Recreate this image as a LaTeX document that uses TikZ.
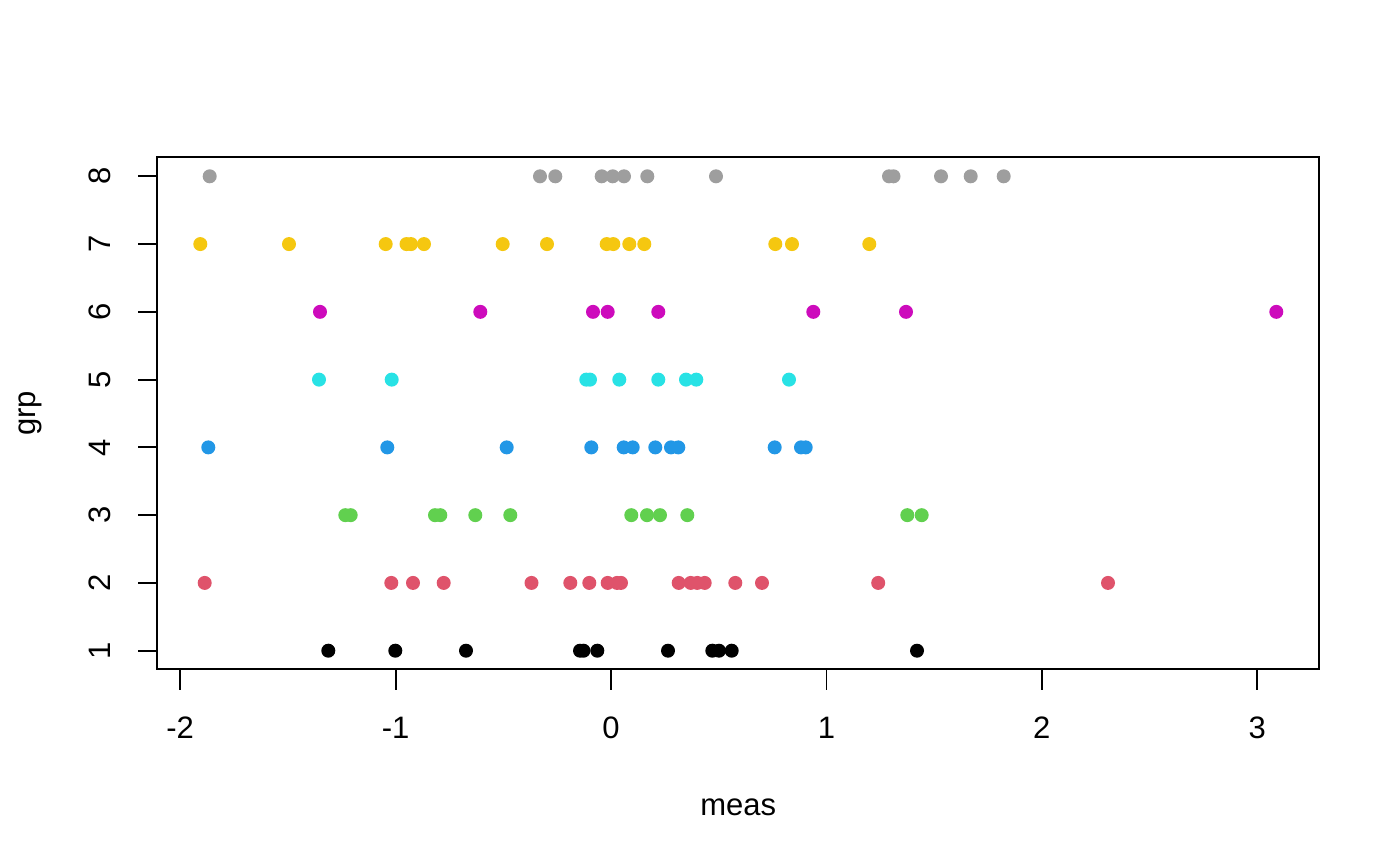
\documentclass[tikz,border=0pt]{standalone}
\usepackage{fontspec}
\setmainfont{Liberation Sans}
\definecolor{c1}{HTML}{000000}
\definecolor{c2}{HTML}{DF536B}
\definecolor{c3}{HTML}{61D04F}
\definecolor{c4}{HTML}{2297E6}
\definecolor{c5}{HTML}{28E2E5}
\definecolor{c6}{HTML}{CD0BBC}
\definecolor{c7}{HTML}{F5C710}
\definecolor{c8}{HTML}{9E9E9E}
\begin{document}
\begin{tikzpicture}[x=1pt,y=-1pt,
  axisline/.style={line width=1.8pt,black},
  ticklabel/.style={font=\fontsize{31}{36}\selectfont,inner sep=0pt,anchor=base},
  pt/.style={fill=#1}]
\useasboundingbox[fill=white] (0,0) rectangle (1400,866);
% frame
\draw[axisline] (157.3,157.3) rectangle (1319.3,669.3);
% x ticks
\foreach \v/\lab in {-2/-2,-1/-1,0/0,1/1,2/2,3/3}{
  \draw[axisline] ({611+215.4*\v},669.3) -- ({611+215.4*\v},689.5);
  \node[ticklabel] (xl\v) at ({611+215.4*\v},738.3) {\lab};
}
% y ticks
\foreach \k in {1,...,8}{
  \draw[axisline] (157.3,{650.7-(\k-1)*67.77}) -- (137.5,{650.7-(\k-1)*67.77});
  \node[ticklabel,rotate=90] (yl\k) at (110,{650.7-(\k-1)*67.77}) {\k};
}
% axis titles
\node[ticklabel] (xt) at (738.3,815) {meas};
\node[ticklabel,rotate=90] (yt) at (35,413.3) {grp};
% points
\foreach \k/\xs in {
  1/{328.3,395.3,466,580,583.5,597.3,668,712.3,719,731.7,917},
  2/{204.7,391.3,413,443.7,531.5,570.3,589.3,607.7,617,621,678.7,690.7,697.3,704.7,735.3,762,878.2,1108},
  3/{345.3,350.7,435,440.3,475.3,510.3,631.3,647,660,687.3,907.3,921.7},
  4/{208.3,387.3,506.7,591.3,623.7,632.7,655.3,671,678.3,774.7,801,805.7},
  5/{319,391.7,586.3,590,619.3,658.3,686,696.3,789},
  6/{320,480.3,593,607.7,658.3,813.3,906,1276.3},
  7/{200.3,289,385.7,406.5,411,424,502.7,547,606.7,613.3,629.3,644.3,775.3,792,869.3},
  8/{209.7,540,555.3,601.7,612.7,624,647.3,716,889,893.5,941,970.7,1003.7}}{
  \foreach \x in \xs{
    \fill[c\k] (\x,{650.7-(\k-1)*67.77}) circle[radius=7pt];
  }
}
\end{tikzpicture}
\end{document}
